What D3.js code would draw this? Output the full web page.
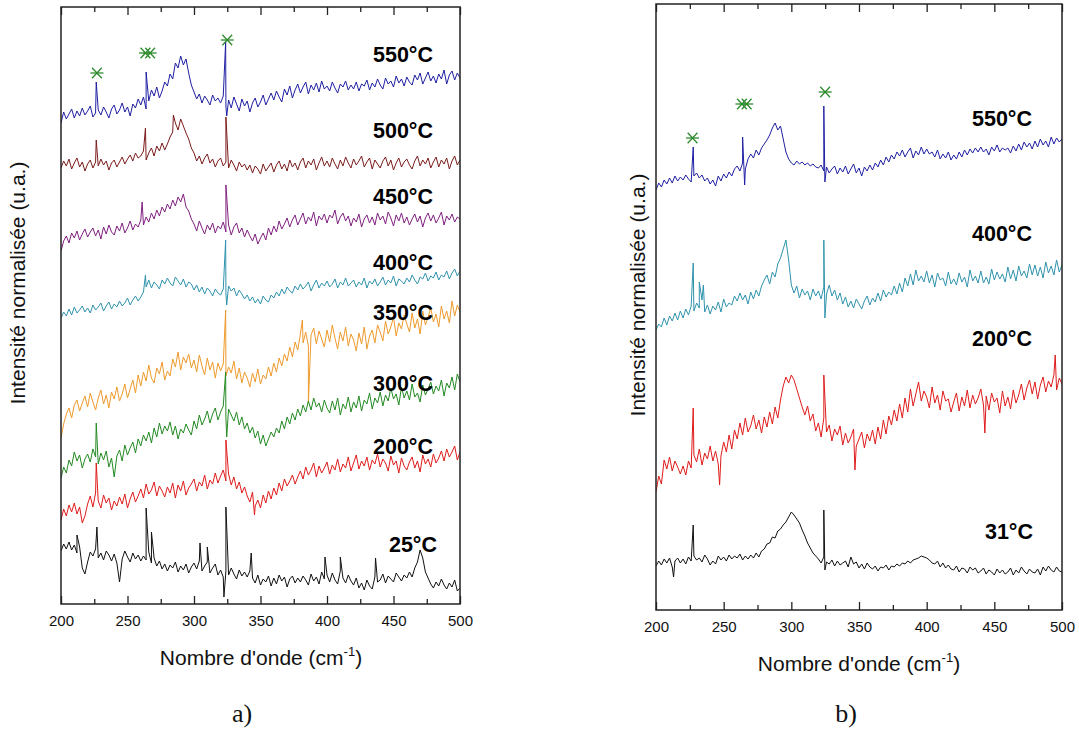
<!DOCTYPE html>
<html><head><meta charset="utf-8">
<script src="https://cdn.jsdelivr.net/npm/d3@7"></script>
<style>body{margin:0;background:#fff}svg{display:block}</style>
</head><body><svg id="c" width="1079" height="729"></svg>
<script>
// ---------- DATA ----------
const wavenumbers = d3.range(200, 501, 2); // cm-1 sampling grid
const xTicks = [200, 250, 300, 350, 400, 450, 500];
const xMinorTicks = [225, 275, 325, 375, 425, 475];
const xLabel = "Nombre d'onde (cm";
const yLabel = "Intensité normalisée (u.a.)";

// Panel a) : relative intensities (u.a.) on the grid, vertical offsets, narrow lines [cm-1, value]
const labelsA = ["550°C", "500°C", "450°C", "400°C", "350°C", "300°C", "200°C", "25°C"];
const offsetsA = [484, 434, 359, 289, 184, 134, 94, 24];
const specA550 = [-3,8,1,6,11,2,9,4,12,5, 9,14,3,7,10,5,13,8,2,11, 15,6,10,17,8,13,4,16,12,21, 15,23,11,19,30,24,33,22,29,38,
 34,46,41,57,52,64,55,61,47,35, 28,21,26,17,24,20,15,25,19,22, 17,24,14,20,12,23,16,9,21,14, 19,8,17,22,13,18,25,15,21,27,
 20,29,23,18,31,25,34,22,30,36, 27,33,38,26,35,30,37,28,39,31, 34,29,38,32,27,36,33,39,30,35, 31,38,29,36,34,40,30,37,33,41,
 35,31,42,36,39,33,44,37,41,34, 43,38,35,45,40,47,36,42,48,39, 44,37,46,41,50,36,45,49,40,47, 42];
const linesA550 = [[226.5,38],[264,48],[323.8,78],[324.6,4]];
const specA500 = [2,9,4,11,1,7,12,3,8,-1, 6,10,2,8,4,11,5,9,0,7, 10,3,8,13,6,11,15,9,17,12, 14,19,10,17,22,14,24,19,27,20,
 26,33,38,47,40,51,44,37,31,22, 17,9,14,6,12,16,7,11,3,9, 12,4,8,2,10,5,-1,8,3,6, 0,5,-3,4,1,-4,6,-1,3,7,
 -2,5,9,1,6,-1,10,3,7,0, 8,12,2,9,5,11,0,7,13,4, 9,3,12,6,1,10,4,13,7,2, 11,5,9,14,3,8,12,1,10,6,
 2,9,13,4,10,0,7,12,3,8, 11,5,1,9,14,4,10,6,12,2, 8,13,3,10,6,12,1,9,14,5, 10];
const linesA500 = [[226.5,30],[263.5,42],[284.5,55],[324,53]];
const specA450 = [-6,4,9,2,12,7,14,5,11,16, 8,13,17,9,15,6,18,11,20,13, 10,19,14,22,12,17,24,15,21,18, 25,20,28,23,32,26,35,29,38,33,
 41,36,45,39,48,43,51,38,34,26, 21,14,24,17,11,20,15,22,12,19, 16,23,13,20,10,18,22,12,17,8, 15,9,4,11,1,7,12,5,17,10,
 19,13,24,16,21,27,18,25,30,20, 26,32,21,28,24,33,19,29,25,31, 22,30,27,35,21,28,32,24,29,19, 27,23,31,18,26,30,22,28,20,32,
 25,29,21,33,27,19,30,24,32,22, 28,20,26,31,23,29,18,27,32,24, 30,22,27,33,20,29,25,31,23,28, 26];
const linesA450 = [[261,43],[324,60]];
const specA400 = [-3,3,-1,6,0,8,2,5,9,3, 7,2,10,5,8,12,4,9,13,6, 11,8,14,9,12,17,10,15,19,14, 18,23,28,35,27,33,30,26,35,31,
 37,32,29,38,34,30,36,28,33,31, 25,30,23,28,21,27,24,19,26,22, 20,26,22,29,24,27,19,25,21,16, 20,14,18,12,16,11,19,15,13,20,
 17,23,19,26,21,28,24,22,29,25, 31,26,29,33,24,30,35,27,32,29, 34,28,31,36,27,33,30,37,29,32, 35,28,33,30,37,27,34,31,36,29,
 33,38,30,35,32,39,29,36,34,31, 37,33,40,35,31,38,36,42,34,39, 37,43,35,40,38,44,36,42,46,39, 44];
const linesA400 = [[263.5,40],[323.8,75],[324.6,10]];
const specA350 = [-18,-4,6,12,2,15,20,9,17,24, 13,27,18,10,22,30,16,25,12,28, 21,33,19,26,36,22,31,40,27,45, 34,48,39,55,42,37,52,46,58,40,
 49,44,61,53,68,50,63,57,66,52, 60,48,65,54,45,62,50,58,42,57, 49,56,44,53,47,59,41,52,37,48, 42,33,47,38,51,36,45,41,53,44,
 57,48,62,54,66,59,73,63,78,70, 86,77,88,74,85,92,76,89,81,73, 90,78,95,82,71,88,79,93,74,86, 80,69,87,76,93,71,84,90,77,95,
 88,79,99,86,93,103,84,97,91,105, 96,88,107,92,101,86,109,95,103,112, 98,106,93,114,101,109,97,119,104,115, 108];
const linesA350 = [[323.8,110],[381.5,100],[386,17]];
const specA300 = [-8,3,-3,10,4,18,9,15,2,11, 16,8,21,13,6,17,10,19,3,12, -7,14,20,9,25,15,22,28,17,31, 24,35,29,38,27,42,33,47,36,44,
 39,48,35,44,31,41,37,46,40,35, 49,41,55,45,51,59,47,56,62,50, 58,64,52,61,55,49,58,45,53,41, 47,37,43,32,39,26,35,24,31,38,
 33,42,37,49,41,53,46,57,50,61, 54,65,58,69,60,72,63,67,58,70, 62,57,69,60,72,55,66,61,73,58, 68,62,74,59,70,66,77,61,72,67,
 78,64,75,69,82,71,76,65,83,72, 79,70,86,73,77,68,85,75,81,88, 76,84,79,90,74,87,82,93,80,96, 88];
const linesA300 = [[226.5,47],[323.8,98],[324.6,33]];
const specA200 = [-10,1,-6,5,-2,7,-4,3,-13,-6, 6,14,3,17,9,2,15,7,12,0, 9,4,13,6,16,2,11,18,8,14, 21,12,26,16,20,28,14,24,19,13,
 23,17,27,12,25,19,29,15,22,26, 31,19,28,24,35,21,30,26,37,27, 34,40,29,36,25,33,21,28,17,23, 14,8,18,4,10,2,15,7,19,11,
 22,15,27,19,31,24,29,35,26,33, 39,31,43,35,40,47,33,44,37,42, 48,36,45,40,51,38,46,42,53,39, 47,55,41,49,44,53,40,50,46,56,
 43,51,47,39,54,45,49,37,52,44, 40,48,53,42,49,38,55,46,51,43, 56,47,52,59,49,61,53,58,64,50, 58];
const linesA200 = [[226.5,47],[324,70],[345.5,-5]];
const specA25 = [29,36,31,38,30,35,27,33,12,6, 18,28,24,31,22,27,20,29,25,19, 26,17,-2,21,29,23,18,27,21,25, 19,24,20,28,17,22,14,19,11,16,
 9,15,12,18,8,14,10,16,7,13, 17,11,19,9,14,18,7,12,16,5, 10,3,9,5,12,6,1,10,4,8, 3,9,2,-3,5,-5,1,-2,4,-6,
 2,-4,5,-1,3,-7,1,4,-3,2, -2,4,0,-5,6,-1,3,-4,8,1, 5,-2,7,0,-4,9,2,-3,5,-1, -5,2,-8,-3,-10,0,-6,-9,3,-2,
 0,6,-3,4,1,-2,7,3,-1,5, 2,8,3,12,18,30,22,8,2,-4, -8,-2,-6,1,-5,-9,-3,-7,0,-11, -8];
const linesA25 = [[212,45],[227,53],[264,72],[268,48],[304.5,37],[310,33],[322.5,-17],[324,73],[343,27],[398.5,23],[410,23],[436.5,22]];

// Panel b)
const labelsB = ["550°C", "400°C", "200°C", "31°C"];
const offsetsB = [425, 290, 140, 40];
const specB550 = [-5,2,-2,5,1,7,2,9,4,8, 5,10,6,3,9,12,7,10,4,7, 1,5,-1,9,4,11,7,13,9,16, 19,14,22,16,26,31,27,35,30,37,
 41,45,50,57,62,55,59,46,33,26, 22,20,24,21,23,20,22,19,21,18, 17,20,14,18,12,16,19,11,17,13, 19,11,16,21,12,17,9,18,14,20,
 15,22,18,25,20,28,23,30,26,33, 29,35,28,33,37,27,34,30,38,31, 36,31,33,28,35,26,31,27,33,25, 30,26,33,28,35,30,36,32,37,33,
 38,33,36,30,38,34,40,33,37,35, 37,32,39,34,41,35,43,38,42,36, 44,38,46,40,44,38,48,41,47,43, 46];
const linesB550 = [[227.5,38],[264,48],[265.5,0],[324,79],[324.8,3]];
const specB400 = [-10,-4,-7,2,-5,4,-1,7,0,9, 2,11,5,14,9,17,12,20,8,15, 6,14,10,18,8,21,13,17,15,24, 19,27,20,25,16,28,21,30,24,34,
 40,45,36,48,43,56,62,71,80,60, 35,27,34,22,31,25,29,20,31,24, 29,21,33,26,35,24,30,20,27,16, 23,13,19,12,21,16,11,19,24,15,
 22,18,27,19,30,23,28,25,34,26, 37,28,42,34,46,35,50,39,44,38, 49,37,45,33,47,40,42,34,48,36, 41,35,47,38,43,33,50,39,44,37,
 49,37,43,36,51,40,48,41,46,38, 53,41,50,39,54,44,49,42,56,45, 55,44,53,42,58,47,54,45,60,48, 55];
const linesB400 = [[227.5,57],[232,38],[235,35],[324,80],[324.8,2]];
const specB200 = [-22,-6,-14,10,1,13,-1,9,3,-4, 4,-5,9,2,15,8,21,5,17,11, 24,9,19,6,14,28,18,35,21,40, 31,47,35,52,38,44,55,41,50,37,
 53,43,58,46,63,52,70,84,93,87, 95,90,81,72,63,55,64,49,56,39, 47,33,52,38,45,29,41,35,44,25, 37,27,33,41,24,31,38,22,36,29,
 40,26,43,31,50,36,54,45,60,49, 66,52,72,58,81,64,76,88,69,79, 73,62,83,67,75,60,79,69,71,58, 68,77,59,73,64,80,62,75,66,72,
 81,65,74,60,77,68,72,57,79,64, 73,61,80,67,75,86,70,82,90,76, 88,71,85,93,78,89,83,95,80,92, 86];
const linesB200 = [[227.5,62],[247,-15],[324,95],[347,0],[443,37],[495,115]];
const specB31 = [4,9,5,11,7,12,3,9,12,7, 11,6,13,9,14,10,12,8,15,11, 5,9,6,14,10,13,9,15,11,14, 12,16,10,14,11,15,12,17,13,19,
 21,26,27,33,32,39,41,45,48,53, 58,55,51,47,40,34,27,22,17,14, 11,7,13,8,6,10,4,9,5,7, 9,3,13,6,8,2,6,1,7,3,
 1,4,-1,3,2,5,0,4,3,6, 4,7,6,9,7,10,11,12,14,13, 12,10,7,6,9,3,7,2,5,1, 0,4,-2,2,1,-3,3,0,2,-3,
 -1,2,-4,0,-2,-5,1,-3,0,-4, -2,2,-5,0,-3,3,-1,-4,1,-2, -3,1,-5,3,-1,4,0,-2,3,-1, -2];
const linesB31 = [[213,-7],[227.5,45],[324,60],[324.8,0]];

// Reference-line markers (*)
const starWavenumbers = [227, 263.5, 267, 325];
const starLevelsA = [531, 551, 551, 564];
const starLevelsB = [472, 506, 506, 518];

// ---------- STYLE / LAYOUT ----------
const colorsA = ["#1f1fa3", "#7b1c1c", "#80207f", "#2f93ad", "#ee9a2c", "#238a23", "#e01b1b", "#111111"];
const colorsB = ["#1f1fa3", "#2f93ad", "#e01b1b", "#111111"];
const starColor = "#2e8b2e";

const panels = [
  { left: 61, right: 460, top: 7, bottom: 604, yMax: 597,
    series: [specA550, specA500, specA450, specA400, specA350, specA300, specA200, specA25],
    lines: [linesA550, linesA500, linesA450, linesA400, linesA350, linesA300, linesA200, linesA25],
    offsets: offsetsA, labels: labelsA, colors: colorsA, starLevels: starLevelsA,
    labelX: [433,433,433,433,433,433,433,437], labelY: [62,138,204,270,320,391,454,552],
    xTitleX: 261, xTitleY: 665, yTitleX: 25, yTitleY: 283, tagX: 242, tag: "a)" },
  { left: 656, right: 1062, top: 4, bottom: 610, yMax: 606,
    series: [specB550, specB400, specB200, specB31],
    lines: [linesB550, linesB400, linesB200, linesB31],
    offsets: offsetsB, labels: labelsB, colors: colorsB, starLevels: starLevelsB,
    labelX: [1032,1032,1032,1033], labelY: [126,241,346,539],
    xTitleX: 859, xTitleY: 671, yTitleX: 645, yTitleY: 295, tagX: 846, tag: "b)" }
];

const svg = d3.select("#c");
const font = "'Liberation Sans', Arial, sans-serif";

panels.forEach((p, pi) => {
  const x = d3.scaleLinear().domain([200, 500]).range([p.left, p.right]);
  const y = d3.scaleLinear().domain([0, p.yMax]).range([p.bottom, p.top]);
  const g = svg.append("g");

  const clipId = "clip" + pi;
  g.append("clipPath").attr("id", clipId).append("rect")
    .attr("x", p.left).attr("y", p.top).attr("width", p.right - p.left).attr("height", p.bottom - p.top);

  const plot = g.append("g").attr("clip-path", `url(#${clipId})`);
  p.series.forEach((s, si) => {
    const pts = wavenumbers.map((w, i) => [w, s[i]])
      .concat(p.lines[si])
      .sort((a, b) => a[0] - b[0]);
    const line = d3.line()
      .x(d => x(d[0]))
      .y(d => y(p.offsets[si] + d[1]));
    plot.append("path").datum(pts)
      .attr("d", line).attr("fill", "none")
      .attr("stroke", p.colors[si]).attr("stroke-width", 1)
      .attr("stroke-linejoin", "miter");
  });

  // axes (ticks inward, top and bottom)
  const styleTicks = sel => { sel.select(".domain").remove(); sel.selectAll("line").attr("stroke", "#222").attr("stroke-width", 1.3); };
  const ba = g.append("g").attr("transform", `translate(0,${p.bottom})`)
    .call(d3.axisBottom(x).tickValues(xTicks).tickSize(-8).tickPadding(11).tickFormat(d3.format("d")));
  styleTicks(ba);
  ba.selectAll("text").attr("font-family", font).attr("font-size", 15).attr("fill", "#111");
  styleTicks(g.append("g").attr("transform", `translate(0,${p.bottom})`)
    .call(d3.axisBottom(x).tickValues(xMinorTicks).tickSize(-5).tickFormat("")));
  styleTicks(g.append("g").attr("transform", `translate(0,${p.top})`)
    .call(d3.axisTop(x).tickValues(xTicks).tickSize(-8).tickFormat("")));
  styleTicks(g.append("g").attr("transform", `translate(0,${p.top})`)
    .call(d3.axisTop(x).tickValues(xMinorTicks).tickSize(-5).tickFormat("")));

  // frame
  g.append("rect").attr("x", p.left).attr("y", p.top)
    .attr("width", p.right - p.left).attr("height", p.bottom - p.top)
    .attr("fill", "none").attr("stroke", "#222").attr("stroke-width", 1.5);

  // series labels
  p.labels.forEach((t, i) => {
    g.append("text").attr("x", p.labelX[i]).attr("y", p.labelY[i])
      .attr("text-anchor", "end").attr("font-family", font)
      .attr("font-weight", "bold").attr("font-size", 21.5).attr("fill", "#000").text(t);
  });

  // stars
  const s = 6.5;
  starWavenumbers.forEach((w, i) => {
    const sg = g.append("g").attr("transform", `translate(${x(w)},${y(p.starLevels[i])})`)
      .attr("stroke", starColor).attr("stroke-width", 1.3);
    sg.append("line").attr("x1", -s).attr("x2", s).attr("y1", 0).attr("y2", 0);
    sg.append("line").attr("x1", -s * 0.75).attr("x2", s * 0.75).attr("y1", -s * 0.8).attr("y2", s * 0.8);
    sg.append("line").attr("x1", -s * 0.75).attr("x2", s * 0.75).attr("y1", s * 0.8).attr("y2", -s * 0.8);
  });

  // axis titles
  const xt = g.append("text").attr("x", p.xTitleX).attr("y", p.xTitleY)
    .attr("text-anchor", "middle").attr("font-family", font).attr("font-size", 21).attr("fill", "#111");
  xt.append("tspan").text(xLabel);
  xt.append("tspan").attr("dy", -9).attr("font-size", 13).text("-1");
  xt.append("tspan").attr("dy", 9).text(")");

  g.append("text").attr("transform", `translate(${p.yTitleX},${p.yTitleY}) rotate(-90)`)
    .attr("text-anchor", "middle").attr("font-family", font).attr("font-size", 21).attr("fill", "#111")
    .text(yLabel);

  g.append("text").attr("x", p.tagX).attr("y", 722).attr("text-anchor", "middle")
    .attr("font-family", "'Liberation Serif', 'Times New Roman', serif").attr("font-size", 26)
    .attr("fill", "#111").text(p.tag);
});
</script></body></html>
